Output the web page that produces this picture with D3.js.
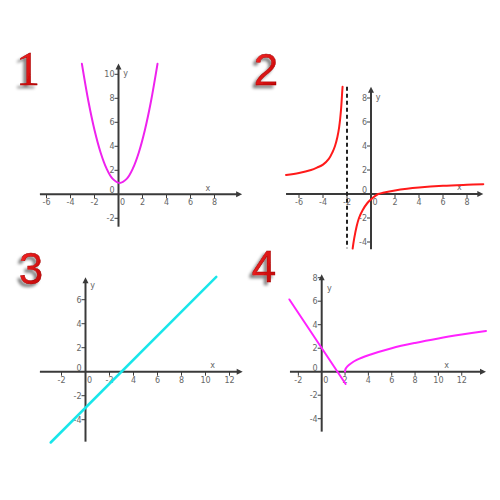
<!DOCTYPE html>
<html>
<head>
<meta charset="utf-8">
<script src="https://cdn.jsdelivr.net/npm/d3@7"></script>
<style>
  html, body { margin: 0; padding: 0; background: #ffffff; }
  svg { display: block; }
</style>
</head>
<body>
<svg id="chart" width="500" height="500"></svg>
<script>
// ---------- data ----------
const panelNumbers = ["1", "2", "3", "4"];

// panel 1 : parabola
const p1X = [-3.05, -2.5, -2, -1.5, -1, -0.5, 0.1, 0.7, 1.2, 1.7, 2.2, 2.7, 3.25];
const p1Y = [10.87, 7.71, 5.36, 3.51, 2.16, 1.31, 0.95, 1.31, 2.16, 3.51, 5.36, 7.71, 10.87];
const p1TickX = [-6, -4, -2, 0, 2, 4, 6, 8];
const p1TickY = [-2, 0, 2, 4, 6, 8, 10];
const p1LabelX = ["-6", "-4", "-2", "0", "2", "4", "6", "8"];

// panel 2 : hyperbola with asymptote x = -2
const p2LeftX = [-7.08, -6, -5, -4.5, -4, -3.5, -3.2, -3, -2.8, -2.65, -2.5, -2.4, -2.37];
const p2LeftY = [1.59, 1.75, 2.0, 2.2, 2.45, 2.95, 3.5, 4.0, 4.75, 5.6, 7.0, 8.5, 8.94];
const p2RightX = [-1.53, -1.4, -1.2, -1, -0.7, -0.3, 0, 0.3, 0.6, 1, 2, 3, 4, 6, 8, 9.36];
const p2RightY = [-4.55, -3.7, -2.7, -2.0, -1.35, -0.75, -0.45, -0.2, 0, 0.1, 0.3, 0.44, 0.54, 0.68, 0.77, 0.82];
const p2Asymptote = -2;
const p2TickX = [-6, -4, -2, 0, 2, 4, 6, 8];
const p2TickY = [-4, -2, 0, 2, 4, 6, 8];
const p2LabelX = ["-6", "-4", "-2", "0", "2", "4", "6", "8"];

// panel 3 : straight line
const p3X = [-2.9, 10.9];
const p3Y = [-5.9, 7.9];
const p3TickX = [-2, 0, 2, 4, 6, 8, 10, 12];
const p3TickY = [-4, -2, 0, 2, 4, 6];
const p3LabelX = ["-2", "0", "-2", "4", "6", "8", "10", "12"];

// panel 4 : line then root curve
const p4LineX = [-2.77, 2.05];
const p4LineY = [6.15, -1.05];
const p4RootX = [2, 2.05, 2.2, 2.5, 3, 4, 6, 8, 10, 12, 14.08];
const p4RootY = [0, 0.25, 0.45, 0.7, 1.0, 1.4, 2.0, 2.45, 2.83, 3.16, 3.47];
const p4TickX = [-2, 0, 2, 4, 6, 8, 10, 12];
const p4TickY = [-4, -2, 0, 2, 4, 6, 8];
const p4LabelX = ["-2", "0", "2", "4", "6", "8", "10", "12"];

// ---------- layout ----------
const panels = [
  { ox: 118.5, oy: 194.3, ux: 12, uy: 12, xExt: [-6.55, 10.3], yExt: [-2.7, 10.9],
    ticksX: p1TickX, labelsX: p1LabelX, ticksY: p1TickY, xLab: [7.45, 0.4], yLab: [0.4, 10.1] },
  { ox: 371, oy: 194, ux: 12, uy: 12, xExt: [-7.08, 9.36], yExt: [-4.6, 8.94],
    ticksX: p2TickX, labelsX: p2LabelX, ticksY: p2TickY, xLab: [7.36, 0.4], yLab: [0.4, 8.05] },
  { ox: 85.5, oy: 371.7, ux: 12, uy: 12, xExt: [-3.8, 13.1], yExt: [-5.83, 7.87],
    ticksX: p3TickX, labelsX: p3LabelX, ticksY: p3TickY, xLab: [10.6, 0.4], yLab: [0.4, 7.25] },
  { ox: 321.7, oy: 371.7, ux: 11.67, uy: 11.75, xExt: [-2.72, 14.08], yExt: [-5.1, 8.3],
    ticksX: p4TickX, labelsX: p4LabelX, ticksY: p4TickY, xLab: [10.7, 0.4], yLab: [0.45, 7.1] }
];

const svg = d3.select("#chart");
const defs = svg.append("defs");
const grad = defs.append("linearGradient").attr("id", "redGrad")
  .attr("x1", "0").attr("y1", "0").attr("x2", "1").attr("y2", "1");
grad.append("stop").attr("offset", "0%").attr("stop-color", "#ff2a2a");
grad.append("stop").attr("offset", "100%").attr("stop-color", "#b80000");
const flt = defs.append("filter").attr("id", "shadow")
  .attr("x", "-50%").attr("y", "-50%").attr("width", "200%").attr("height", "200%");
flt.append("feGaussianBlur").attr("in", "SourceAlpha").attr("stdDeviation", 1.8).attr("result", "b");
flt.append("feOffset").attr("in", "b").attr("dx", -3).attr("dy", 3).attr("result", "o");
flt.append("feComponentTransfer").attr("in", "o").attr("result", "o2")
  .append("feFuncA").attr("type", "linear").attr("slope", 0.5);
const merge = flt.append("feMerge");
merge.append("feMergeNode").attr("in", "o2");
merge.append("feMergeNode").attr("in", "SourceGraphic");

const axisColor = "#3a3a3a";
const labelColor = "#666";
const fontFam = "'DejaVu Sans', Verdana, sans-serif";

function makeScales(p) {
  const x = d3.scaleLinear().domain(p.xExt).range([p.ox + p.ux * p.xExt[0], p.ox + p.ux * p.xExt[1]]);
  const y = d3.scaleLinear().domain(p.yExt).range([p.oy - p.uy * p.yExt[0], p.oy - p.uy * p.yExt[1]]);
  return { x, y };
}

function drawAxes(p, s) {
  const g = svg.append("g");
  const x0 = s.x(0), y0 = s.y(0);
  const xa = s.x(p.xExt[0]), xb = s.x(p.xExt[1]);
  const ya = s.y(p.yExt[0]), yb = s.y(p.yExt[1]);
  g.append("line").attr("x1", xa).attr("x2", xb - 3).attr("y1", y0).attr("y2", y0)
    .attr("stroke", axisColor).attr("stroke-width", 2);
  g.append("line").attr("x1", x0).attr("x2", x0).attr("y1", ya).attr("y2", yb + 3)
    .attr("stroke", axisColor).attr("stroke-width", 2);
  g.append("path").attr("d", `M${xb},${y0} L${xb - 6},${y0 - 3} L${xb - 6},${y0 + 3} Z`).attr("fill", axisColor);
  g.append("path").attr("d", `M${x0},${yb} L${x0 - 3},${yb + 6} L${x0 + 3},${yb + 6} Z`).attr("fill", axisColor);
  p.ticksX.forEach((t, i) => {
    const px = s.x(t);
    if (t !== 0) {
      g.append("line").attr("x1", px).attr("x2", px).attr("y1", y0).attr("y2", y0 + 4)
        .attr("stroke", axisColor).attr("stroke-width", 1);
    }
    g.append("text").attr("x", px + (t === 0 ? 4 : 0)).attr("y", y0 + 11)
      .attr("text-anchor", "middle").attr("font-size", 8).attr("font-family", fontFam)
      .attr("fill", labelColor).text(p.labelsX[i]);
  });
  p.ticksY.forEach(t => {
    const py = s.y(t);
    if (t !== 0) {
      g.append("line").attr("x1", x0 - 4).attr("x2", x0).attr("y1", py).attr("y2", py)
        .attr("stroke", axisColor).attr("stroke-width", 1);
    }
    g.append("text").attr("x", x0 - 4).attr("y", py + 3 - (t === 0 ? 4 : 0))
      .attr("text-anchor", "end").attr("font-size", 8).attr("font-family", fontFam)
      .attr("fill", labelColor).text(String(t));
  });
  g.append("text").attr("x", s.x(p.xLab[0])).attr("y", s.y(p.xLab[1]) + 1)
    .attr("text-anchor", "middle").attr("font-size", 8).attr("font-family", fontFam)
    .attr("fill", labelColor).text("x");
  g.append("text").attr("x", s.x(p.yLab[0])).attr("y", s.y(p.yLab[1]) + 3)
    .attr("text-anchor", "start").attr("font-size", 8).attr("font-family", fontFam)
    .attr("fill", labelColor).text("y");
}

function drawCurve(s, xs, ys, color, width, curve) {
  const pts = xs.map((v, i) => [v, ys[i]]);
  const line = d3.line().x(d => s.x(d[0])).y(d => s.y(d[1])).curve(curve || d3.curveLinear);
  svg.append("path").attr("d", line(pts)).attr("fill", "none")
    .attr("stroke", color).attr("stroke-width", width).attr("stroke-linecap", "round");
}

const sc = panels.map(makeScales);
panels.forEach((p, i) => drawAxes(p, sc[i]));

drawCurve(sc[0], p1X, p1Y, "#ee22ee", 2, d3.curveCatmullRom.alpha(0.5));
svg.append("line")
  .attr("x1", sc[1].x(p2Asymptote)).attr("x2", sc[1].x(p2Asymptote))
  .attr("y1", sc[1].y(panels[1].yExt[1])).attr("y2", sc[1].y(panels[1].yExt[0]) - 1)
  .attr("stroke", "#222").attr("stroke-width", 2).attr("stroke-dasharray", "4,3");
drawCurve(sc[1], p2LeftX, p2LeftY, "#ff1a1a", 2, d3.curveCatmullRom.alpha(0.5));
drawCurve(sc[1], p2RightX, p2RightY, "#ff1a1a", 2, d3.curveCatmullRom.alpha(0.5));
drawCurve(sc[2], p3X, p3Y, "#19e6ea", 2.5);
drawCurve(sc[3], p4LineX, p4LineY, "#ff22ff", 2);
drawCurve(sc[3], p4RootX, p4RootY, "#ff22ff", 2, d3.curveCatmullRom.alpha(0.5));

const numPos = [[28, 85, "'Liberation Serif', serif", 48], [266, 85, "'Liberation Sans', Arial, sans-serif", 44],
                [31, 283.5, "'Liberation Sans', Arial, sans-serif", 44], [264, 282, "'Liberation Sans', Arial, sans-serif", 44]];
panelNumbers.forEach((n, i) => {
  const [x, y, ff, fs] = numPos[i];
  svg.append("text").attr("x", x).attr("y", y).attr("text-anchor", "middle")
    .attr("font-family", ff).attr("font-size", fs)
    .attr("fill", "url(#redGrad)").attr("stroke", "#990000").attr("stroke-width", 0.4)
    .attr("filter", "url(#shadow)").text(n);
});
</script>
</body>
</html>
